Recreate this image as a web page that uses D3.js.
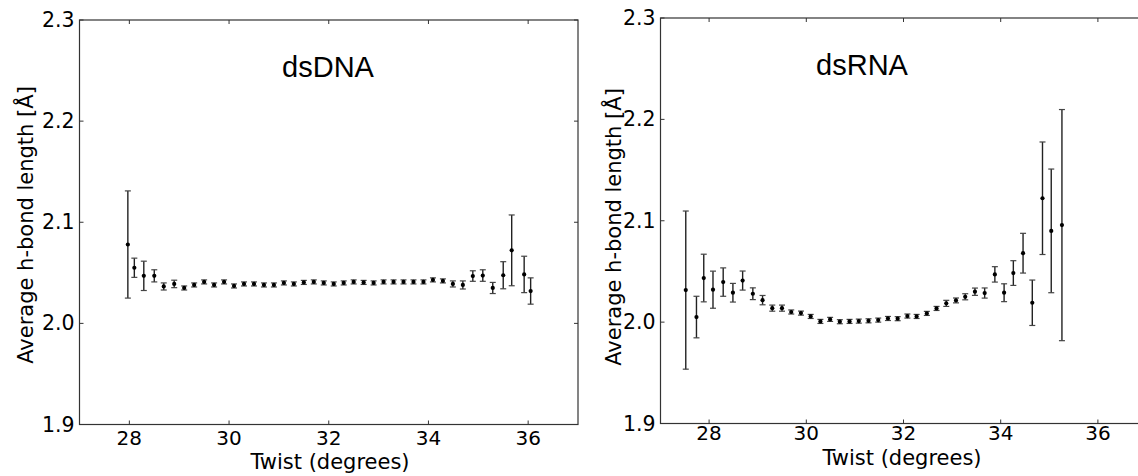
<!DOCTYPE html>
<html>
<head>
<meta charset="utf-8">
<script src="https://cdn.jsdelivr.net/npm/d3@7"></script>
<style>
  body { margin: 0; background: #fff; }
  svg { display: block; }
</style>
</head>
<body>
<div id="chart"></div>
<script>
// dsDNA: twist (deg), mean h-bond length, error half-width
const dnaTwist = [27.97, 28.1, 28.29, 28.5, 28.69, 28.9, 29.1, 29.3, 29.5, 29.7, 29.9, 30.1, 30.3, 30.5,
    30.7, 30.9, 31.1, 31.3, 31.5, 31.7, 31.9, 32.1, 32.3, 32.5, 32.7, 32.9, 33.1, 33.3, 33.5, 33.7, 33.9,
    34.09, 34.29, 34.49, 34.69, 34.89, 35.09, 35.29, 35.5, 35.67, 35.92, 36.05];
const dnaMean = [2.078, 2.055, 2.047, 2.047, 2.0365, 2.039, 2.035, 2.038, 2.041, 2.038, 2.041, 2.037, 2.039, 2.039,
    2.038, 2.038, 2.040, 2.039, 2.0405, 2.041, 2.040, 2.039, 2.040, 2.041, 2.0405, 2.040, 2.041, 2.041, 2.041, 2.041, 2.041,
    2.043, 2.042, 2.039, 2.038, 2.0468, 2.0473, 2.035, 2.0476, 2.0722, 2.0484, 2.032];
const dnaErr = [0.053, 0.0095, 0.0145, 0.006, 0.0035, 0.0037, 0.002, 0.002, 0.002, 0.002, 0.002, 0.002, 0.002, 0.002,
    0.002, 0.002, 0.002, 0.002, 0.002, 0.002, 0.002, 0.002, 0.002, 0.002, 0.002, 0.002, 0.002, 0.002, 0.002, 0.002, 0.002,
    0.002, 0.002, 0.003, 0.004, 0.0052, 0.0057, 0.0055, 0.0134, 0.035, 0.018, 0.013];

// dsRNA
const rnaTwist = [27.52, 27.74, 27.89, 28.08, 28.29, 28.49, 28.69, 28.9, 29.1, 29.3, 29.5, 29.69, 29.89, 30.09,
    30.29, 30.49, 30.69, 30.89, 31.08, 31.28, 31.48, 31.68, 31.88, 32.08, 32.27, 32.48, 32.68, 32.88, 33.08,
    33.27, 33.47, 33.67, 33.88, 34.07, 34.26, 34.46, 34.65, 34.86, 35.04, 35.26];
const rnaMean = [2.0316, 2.005, 2.0435, 2.032, 2.0395, 2.029, 2.041, 2.028, 2.0217, 2.0138, 2.0138, 2.010, 2.0089, 2.0056,
    2.0007, 2.0027, 2.0004, 2.0007, 2.001, 2.0013, 2.002, 2.0036, 2.0034, 2.006, 2.0056, 2.0086, 2.0135, 2.0185, 2.0214,
    2.025, 2.03, 2.0287, 2.0471, 2.029, 2.0484, 2.068, 2.0191, 2.1222, 2.09, 2.0957];
const rnaErr = [0.078, 0.0205, 0.0235, 0.0183, 0.014, 0.0092, 0.0094, 0.0058, 0.0046, 0.003, 0.003, 0.002, 0.002, 0.002,
    0.002, 0.002, 0.002, 0.002, 0.002, 0.002, 0.002, 0.002, 0.002, 0.002, 0.002, 0.002, 0.002, 0.003, 0.0024,
    0.003, 0.0036, 0.005, 0.0076, 0.0088, 0.0122, 0.0196, 0.0224, 0.0555, 0.061, 0.114];

const xTicks = [28, 30, 32, 34, 36];
const yTicks = [1.9, 2.0, 2.1, 2.2, 2.3];
const yLabel = "Average h-bond length [Å]";
const xLabel = "Twist (degrees)";

const width = 1138, height = 476;
const tickFont = "'DejaVu Sans', sans-serif";

const svg = d3.select("#chart").append("svg")
    .attr("width", width)
    .attr("height", height);

function panel(cfg, twist, mean, err) {
    const x = d3.scaleLinear().domain([27, 37]).range([cfg.left, cfg.right]);
    const y = d3.scaleLinear().domain([1.9, 2.3]).range([cfg.bottom, cfg.top]);
    const g = svg.append("g");
    const frame = "#333";

    // frame
    g.append("rect")
        .attr("x", x(27)).attr("y", y(2.3))
        .attr("width", x(37) - x(27)).attr("height", y(1.9) - y(2.3))
        .attr("fill", "none").attr("stroke", frame).attr("stroke-width", 1.2);

    // inward ticks on all sides
    xTicks.forEach(t => {
        g.append("line").attr("x1", x(t)).attr("x2", x(t))
            .attr("y1", y(1.9)).attr("y2", y(1.9) - 4).attr("stroke", frame);
        g.append("line").attr("x1", x(t)).attr("x2", x(t))
            .attr("y1", y(2.3)).attr("y2", y(2.3) + 4).attr("stroke", frame);
        g.append("text").attr("x", x(t)).attr("y", cfg.bottom + cfg.xTickOff)
            .attr("text-anchor", "middle")
            .style("font-family", tickFont).style("font-size", "20px")
            .text(t);
    });
    yTicks.forEach(t => {
        g.append("line").attr("x1", x(27)).attr("x2", x(27) + 4)
            .attr("y1", y(t)).attr("y2", y(t)).attr("stroke", frame);
        g.append("line").attr("x1", x(37)).attr("x2", x(37) - 4)
            .attr("y1", y(t)).attr("y2", y(t)).attr("stroke", frame);
        g.append("text").attr("x", x(27) - 5).attr("y", y(t) + 7)
            .attr("text-anchor", "end")
            .style("font-family", tickFont).style("font-size", "20.5px")
            .text(t.toFixed(1));
    });

    // axis titles
    g.append("text")
        .attr("x", cfg.xTitleX)
        .attr("y", cfg.bottom + cfg.xTitleOff)
        .attr("text-anchor", "middle")
        .style("font-family", tickFont).style("font-size", "21px")
        .text(xLabel);
    g.append("text")
        .attr("transform", `translate(${cfg.yTitleX},${cfg.yTitleY}) rotate(-90)`)
        .attr("text-anchor", "middle")
        .style("font-family", tickFont).style("font-size", "21px")
        .text(yLabel);

    // panel title
    g.append("text")
        .attr("x", cfg.titleX).attr("y", cfg.titleY)
        .attr("text-anchor", "middle")
        .style("font-family", "'Liberation Sans', Arial, sans-serif").style("font-size", "29px")
        .text(cfg.title);

    // error bars + markers
    const pts = twist.map((t, i) => ({ t, m: mean[i], e: err[i] }));
    const eb = g.selectAll(".eb").data(pts).enter().append("g").attr("class", "eb");
    eb.append("line")
        .attr("x1", d => x(d.t)).attr("x2", d => x(d.t))
        .attr("y1", d => y(d.m - d.e)).attr("y2", d => y(d.m + d.e))
        .attr("stroke", "#222").attr("stroke-width", 1.4);
    [-1, 1].forEach(s => {
        eb.append("line")
            .attr("x1", d => x(d.t) - 3).attr("x2", d => x(d.t) + 3)
            .attr("y1", d => y(d.m + s * d.e)).attr("y2", d => y(d.m + s * d.e))
            .attr("stroke", "#444").attr("stroke-width", 1.2);
    });
    eb.append("path")
        .attr("transform", d => `translate(${x(d.t)},${y(d.m)})`)
        .attr("d", d3.symbol(d3.symbolCircle).size(14))
        .attr("fill", "#000");
}

panel({ left: 79.5, right: 578, top: 20, bottom: 424.5, xTickOff: 20, xTitleOff: 44.5, xTitleX: 330,
        yTitleX: 33, yTitleY: 225, titleX: 328, titleY: 77, title: "dsDNA" },
      dnaTwist, dnaMean, dnaErr);

panel({ left: 660.5, right: 1146.5, top: 18, bottom: 423.5, xTickOff: 16.5, xTitleOff: 41, xTitleX: 902,
        yTitleX: 621, yTitleY: 227, titleX: 862, titleY: 75, title: "dsRNA" },
      rnaTwist, rnaMean, rnaErr);
</script>
</body>
</html>
